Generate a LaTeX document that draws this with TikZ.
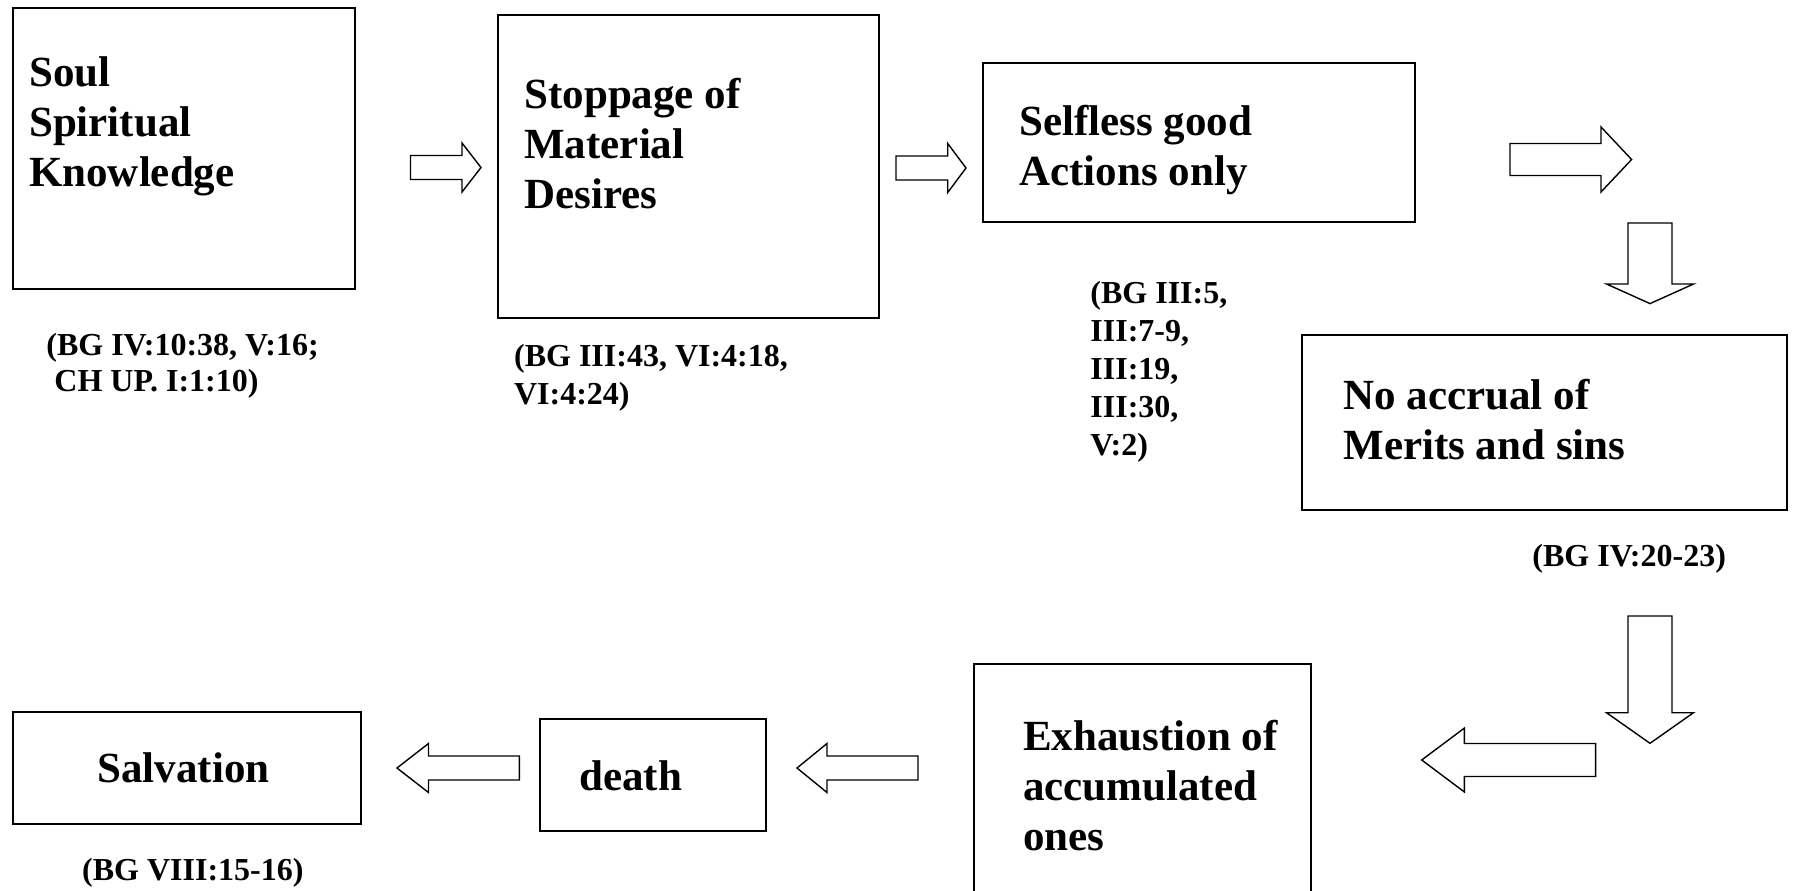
\documentclass[tikz,border=0pt]{standalone}
\usepackage{fontspec}
\setmainfont{Liberation Serif}
\usetikzlibrary{fit}

% hollow block arrows: tail, head base, tip, axis, shaft half-width, head half-width
\newcommand\harrow[6]{%
  \draw[blk] (#1,#4-#5) -- (#2,#4-#5) -- (#2,#4-#6) -- (#3,#4)
    -- (#2,#4+#6) -- (#2,#4+#5) -- (#1,#4+#5) -- cycle;}
\newcommand\varrow[6]{%
  \draw[blk] (#4-#5,#1) -- (#4-#5,#2) -- (#4-#6,#2) -- (#4,#3)
    -- (#4+#6,#2) -- (#4+#5,#2) -- (#4+#5,#1) -- cycle;}

\begin{document}
\begin{tikzpicture}[x=0.5pt,y=-0.5pt,
  box/.style={draw, line width=1pt, inner sep=0pt},
  blk/.style={draw, line width=0.7pt, fill=white, line join=miter},
  label/.style={anchor=base west, inner sep=0pt,
    font=\fontsize{21.5}{25}\selectfont\bfseries},
  cite/.style={anchor=base west, inner sep=0pt,
    font=\fontsize{16}{19}\selectfont\bfseries}]

\useasboundingbox (0,0) rectangle (1794,890);
\clip (0,0) rectangle (1794,890);

% boxes
\node[box, fit={(12.5,8) (355,289)}] (soul) {};
\node[box, fit={(498,15) (879,318)}] (stop) {};
\node[box, fit={(983,63) (1415,222)}] (self) {};
\node[box, fit={(1302,335) (1787,510)}] (merit) {};
\node[box, fit={(974,664) (1311,905)}] (exh) {};
\node[box, fit={(539.5,719) (765.5,831)}] (death) {};
\node[box, fit={(13,711.7) (360.5,823.5)}] (salv) {};

% box texts
\node[label] (soulT) at (28.7,86.7)
  {\begin{tabular}[t]{@{}l@{}}Soul\\Spiritual\\Knowledge\end{tabular}};
\node[label] (stopT) at (524,108.3)
  {\begin{tabular}[t]{@{}l@{}}Stoppage of\\Material\\Desires\end{tabular}};
\node[label] (selfT) at (1019,135.7)
  {\begin{tabular}[t]{@{}l@{}}Selfless good\\Actions only\end{tabular}};
\node[label] (meritT) at (1343,409)
  {\begin{tabular}[t]{@{}l@{}}No accrual of\\Merits and sins\end{tabular}};
\node[label] (exhT) at (1022.6,750)
  {\begin{tabular}[t]{@{}l@{}}Exhaustion of\\accumulated\\ones\end{tabular}};
\node[label] (deathT) at (578.8,790) {death};
\node[label] (salvT) at (97,782.7) {Salvation};

% references
\node[cite, font=\fontsize{16}{18.35}\selectfont\bfseries] (c1) at (46,355)
  {\begin{tabular}[t]{@{}l@{}}(BG IV:10:38, V:16;\\\ CH UP. I:1:10)\end{tabular}};
\node[cite] (c2) at (513.7,366.7)
  {\begin{tabular}[t]{@{}l@{}}(BG III:43, VI:4:18,\\VI:4:24)\end{tabular}};
\node[cite] (c3) at (1090,303.6)
  {\begin{tabular}[t]{@{}l@{}}(BG III:5,\\III:7-9,\\III:19,\\III:30,\\V:2)\end{tabular}};
\node[cite] (c4) at (1532,566) {(BG IV:20-23)};
\node[cite] (c7) at (81.8,880) {(BG VIII:15-16)};

% flow arrows
\harrow{410.5}{462}{481}{167.5}{12}{24.5}
\harrow{896}{947.7}{966}{168}{12}{24.5}
\harrow{1510}{1601}{1631.6}{159.5}{16}{32.5}
\varrow{223}{284}{303.6}{1650}{22}{43.5}
\varrow{616}{712.7}{743.3}{1650}{22}{43.5}
\harrow{1595.6}{1464.4}{1421.7}{760}{16.5}{32}
\harrow{918}{827}{797}{768}{12}{24.5}
\harrow{519.4}{428.5}{397}{768}{12}{24.5}

\end{tikzpicture}
\end{document}
